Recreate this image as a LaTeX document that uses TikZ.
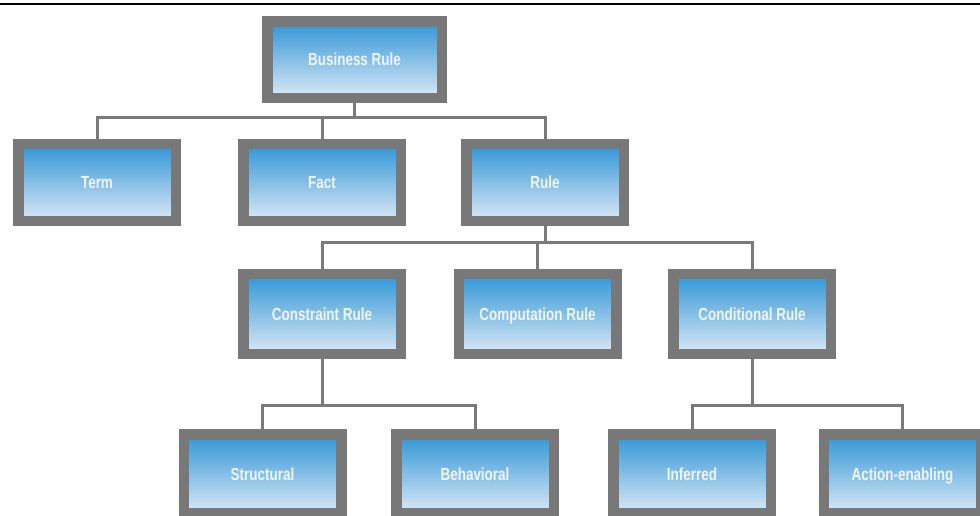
\documentclass[tikz,border=0pt]{standalone}
\usepackage{fontspec}
\setmainfont{Liberation Sans}[FakeStretch=0.77]
\begin{document}
\definecolor{framegray}{HTML}{787878}
\definecolor{linegray}{HTML}{7A7A7A}
\definecolor{topblue}{HTML}{2F95D6}
\definecolor{lowblue}{HTML}{DCE9F6}
\definecolor{labelwhite}{HTML}{EEF6FC}
\begin{tikzpicture}[x=1pt,y=-1pt,
  box/.style={draw=framegray, line width=10.5pt, top color=topblue, bottom color=lowblue,
    minimum width=157.5pt, minimum height=77pt, inner sep=0pt,
    text height=12pt, text depth=0pt,
    text=labelwhite, font=\fontsize{17.5}{17.5}\selectfont\bfseries},
  conn/.style={draw=linegray, line width=3pt}]
\useasboundingbox (0,0) rectangle (980,515);
\draw[line width=1.3pt] (0,4) -- (980,4);

% heights of the horizontal branch lines
\coordinate (bus1) at (0,117);
\coordinate (bus2) at (0,242);
\coordinate (bus3a) at (0,405);
\coordinate (bus3b) at (0,405);

\node[box, minimum width=174.5pt, minimum height=76.5pt] (br) at (354.5,59.5) {Business Rule};

\node[box] (term) at (97,182.5) {Term};
\node[box] (fact) at (322,182.5) {Fact};
\node[box] (rule) at (545,182.5) {Rule};

\node[box, minimum height=80pt] (cons) at (322,314) {Constraint Rule};
\node[box, minimum height=80pt] (comp) at (537.5,314) {Computation Rule};
\node[box, minimum height=80pt] (cond) at (752,314) {Conditional Rule};

\node[box, minimum height=79pt] (struc) at (262.5,474) {Structural};
\node[box, minimum height=79pt] (behav) at (475,474) {Behavioral};
\node[box, minimum height=79pt] (infer) at (692,474) {Inferred};
\node[box, minimum height=79pt] (action) at (902.5,474) {Action-enabling};

% connectors
\draw[conn] (br.south) -- (br.south |- bus1);
\draw[conn] (term.north) |- (rule.north |- bus1) -- (rule.north);
\draw[conn] (fact.north) -- (fact.north |- bus1);

\draw[conn] (rule.south) -- (rule.south |- bus2);
\draw[conn] (cons.north) |- (cond.north |- bus2) -- (cond.north);
\draw[conn] (comp.north) -- (comp.north |- bus2);

\draw[conn] (cons.south) -- (cons.south |- bus3a);
\draw[conn] (struc.north) |- (behav.north |- bus3a) -- (behav.north);

\draw[conn] (cond.south) -- (cond.south |- bus3b);
\draw[conn] (infer.north) |- (action.north |- bus3b) -- (action.north);
\end{tikzpicture}
\end{document}
